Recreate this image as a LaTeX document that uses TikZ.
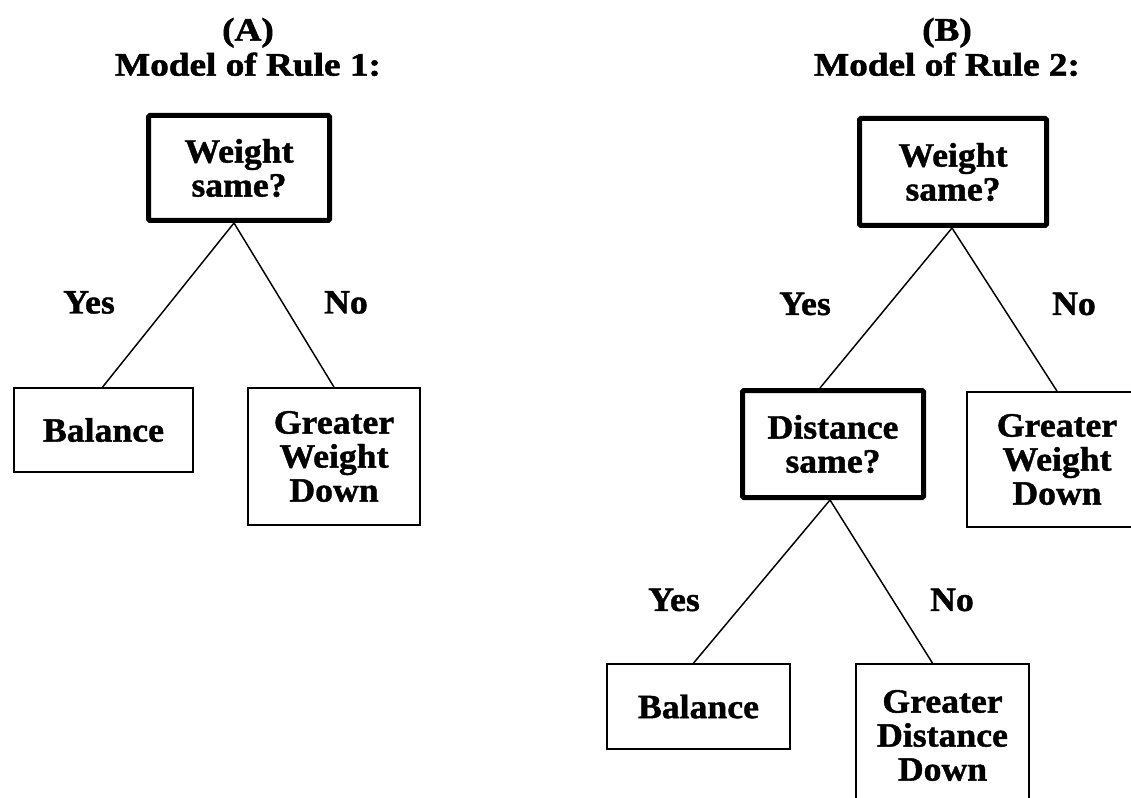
\documentclass[tikz,border=0pt]{standalone}
\usepackage{fontspec}
\setmainfont{Liberation Serif}[BoldFeatures={FakeBold=1.2, FakeStretch=1.05}]
\newfontfamily\headfont{Liberation Serif}[BoldFeatures={FakeBold=1.6, FakeStretch=1.14}]
\usetikzlibrary{calc}

\tikzset{
  txt/.style={font=\fontsize{25.5}{25.5}\selectfont\bfseries, align=center, inner sep=0pt},
  question/.style={txt, draw, line width=3.75pt, rounded corners=1pt},
  outcome/.style={txt, draw, line width=1.3pt},
  branch/.style={line width=1.1pt},
  answer/.style={font=\fontsize{25.5}{25.5}\selectfont\bfseries, inner sep=0pt},
  heading/.style={font=\headfont\fontsize{24.5}{26.25}\selectfont\bfseries, align=center, inner sep=0pt}
}

\begin{document}
\begin{tikzpicture}[x=0.75pt, y=-0.75pt]
  \useasboundingbox (0,0) rectangle (1131,798);
  \fill[white] (0,0) rectangle (1131,798);
  \clip (0,0) rectangle (1131,798);

  % ---- (A) Rule 1: a single test ----
  \node[heading] (titleA) at (248,47) {(A)\\Model of Rule 1:};
  \node[question, minimum width=135.75pt, minimum height=78.75pt] (topA) at (239,168) {Weight\\same?};
  \node[outcome, minimum width=134.25pt, minimum height=63pt] (balA) at (103.5,430) {Balance};
  \node[outcome, minimum width=129pt, minimum height=102.75pt] (gwdA) at (334,456.5) {Greater\\Weight\\Down};
  \node[answer] (yesA) at (89,302.5) {Yes};
  \node[answer] (noA) at (346,302.5) {No};
  \draw[branch] ($(topA.south)+(-5,0)$) -- ($(balA.north)+(-1,0)$);
  \draw[branch] ($(topA.south)+(-5,0)$) -- (gwdA.north);

  % ---- (B) Rule 2: weight first, then distance ----
  \node[heading] (titleB) at (947,47) {(B)\\Model of Rule 2:};
  \node[question, minimum width=140.25pt, minimum height=80.25pt] (topB) at (953,172) {Weight\\same?};
  \node[question, minimum width=135.75pt, minimum height=80.25pt] (dist) at (833,444) {Distance\\same?};
  \node[outcome, minimum width=135pt, minimum height=101.25pt] (gwdB) at (1057,459.5) {Greater\\Weight\\Down};
  \node[answer] (yesB) at (805,304) {Yes};
  \node[answer] (noB) at (1074,304) {No};
  \draw[branch] ($(topB.south)+(-1,0)$) -- ($(dist.north)+(-13,0)$);
  \draw[branch] ($(topB.south)+(-1,0)$) -- (gwdB.north);

  \node[outcome, minimum width=137.25pt, minimum height=63.75pt] (balB) at (698.5,706.5) {Balance};
  \node[outcome, minimum width=129.75pt, minimum height=107.25pt] (gdd) at (942.5,735.5) {Greater\\Distance\\Down};
  \node[answer] (yesC) at (674,600) {Yes};
  \node[answer] (noC) at (952,600) {No};
  \draw[branch] ($(dist.south)+(-3,0)$) -- ($(balB.north)+(-5,0)$);
  \draw[branch] ($(dist.south)+(-3,0)$) -- ($(gdd.north)+(-10,0)$);
\end{tikzpicture}
\end{document}
